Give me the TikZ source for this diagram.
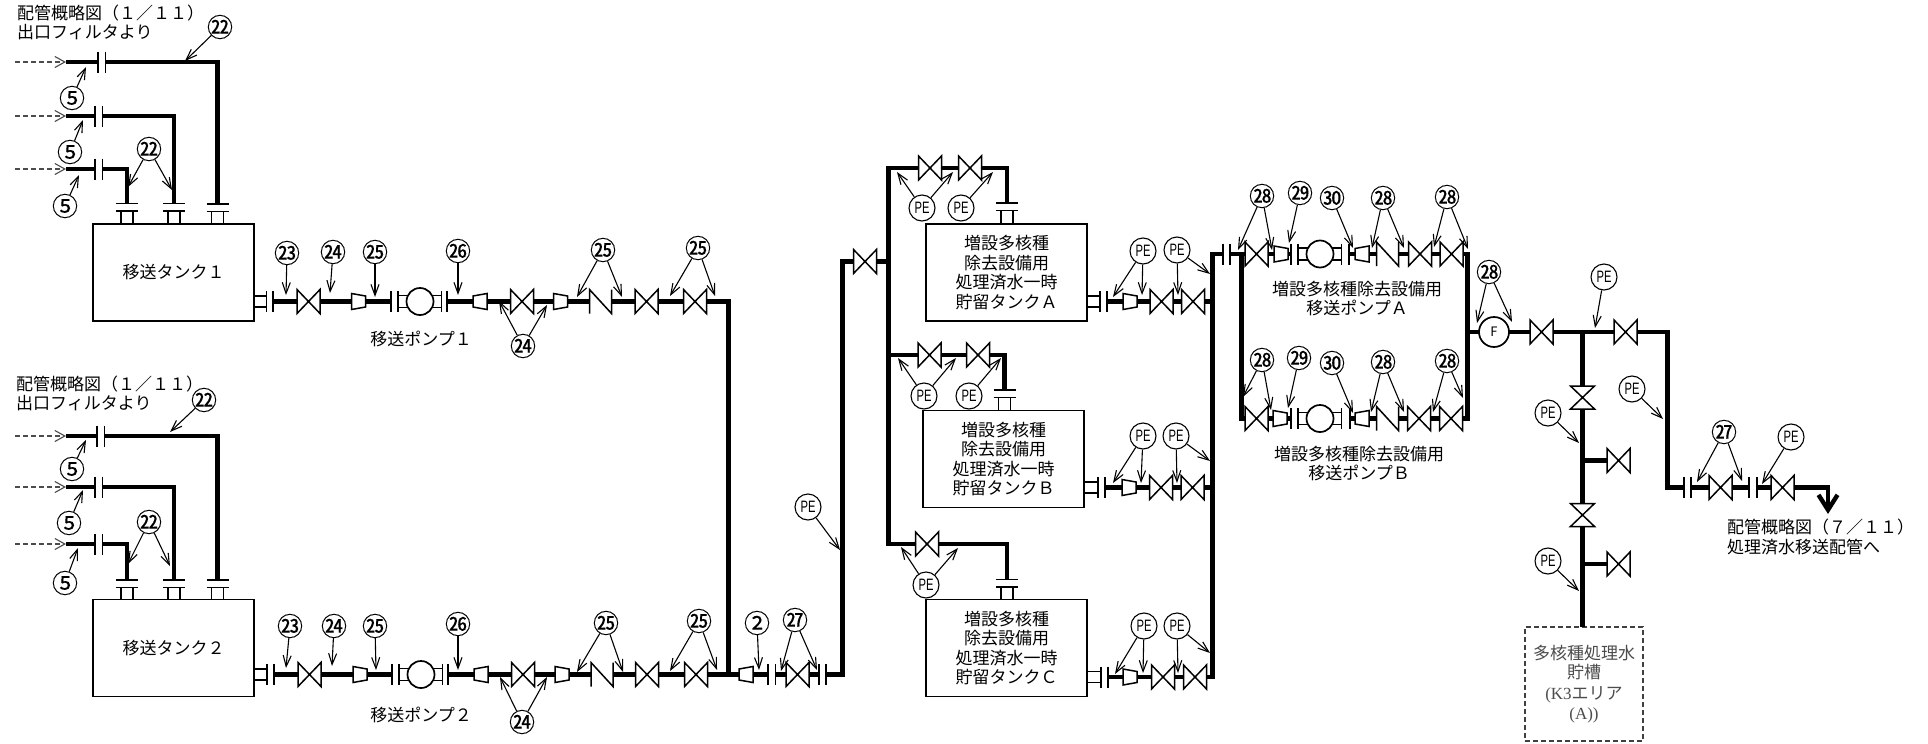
\documentclass[tikz,border=0pt]{standalone}
\usepackage{fontspec}
\usetikzlibrary{arrows.meta}
\setmainfont{Noto Sans CJK JP}
\newfontfamily\pefont[FakeStretch=0.68]{Liberation Sans}
\newfontfamily\serifl{Liberation Serif}
\newfontfamily\bubfont[FakeBold=0.12]{Noto Sans CJK JP}
\newcounter{bubc}
\tikzset{
  sline/.style={line width=1.5pt,black,line join=miter},
  pipe/.style={line width=4.4pt,black,line join=miter},
  lead/.style={line width=1.1pt,black,-{Straight Barb[length=11pt,width=8pt]}},
  feed/.style={line width=1.1pt,dashed,dash pattern=on 5pt off 3pt,black!70,-{Straight Barb[length=10pt,width=11pt]}},
  sym/.style={inner sep=0pt,outer sep=0pt,minimum width=0pt,minimum height=0pt},
  tank/.style={draw,line width=1.5pt,inner sep=0pt,outer sep=0pt,minimum width=161pt,minimum height=97pt,align=center,font=\fontsize{17}{19.4}\selectfont},
  lbl/.style={inner sep=0pt,align=center,font=\fontsize{17}{19.4}\selectfont},
  bubn/.style={circle,inner sep=0pt,minimum size=24pt,font=\fontsize{26}{26}\bubfont},
  bubp/.style={circle,draw,line width=1.1pt,inner sep=0pt,minimum size=26pt,font=\fontsize{16.5}{17}\pefont},
}
% symbols: name, x, y
\newcommand\symV[3]{\node[sym,minimum width=23pt,minimum height=24pt] (#1) at (#2,#3) {};
  \draw[sline] (#1.north west) -- (#1.south east) -- (#1.north east) -- (#1.south west) -- cycle;}
\newcommand\symVv[3]{\node[sym,minimum width=24pt,minimum height=23pt] (#1) at (#2,#3) {};
  \draw[sline] (#1.north west) -- (#1.north east) -- (#1.south west) -- (#1.south east) -- cycle;}
\newcommand\symCk[3]{\node[sym,minimum width=22pt,minimum height=24pt] (#1) at (#2,#3) {};
  \draw[sline] (#1.south west) -- (#1.north west) -- (#1.south east) -- (#1.north east);}
\newcommand\symRL[3]{\node[sym,minimum width=14pt,minimum height=16pt] (#1) at (#2,#3) {};
  \draw[sline] (#1.north west) -- ([yshift=-2.5pt]#1.north east) -- ([yshift=2.5pt]#1.south east) -- (#1.south west) -- cycle;}
\newcommand\symRR[3]{\node[sym,minimum width=14pt,minimum height=16pt] (#1) at (#2,#3) {};
  \draw[sline] (#1.north east) -- ([yshift=-2.5pt]#1.north west) -- ([yshift=2.5pt]#1.south west) -- (#1.south east) -- cycle;}
\newcommand\symF[3]{\node[sym,minimum height=21pt] (#1) at (#2,#3) {};
  \draw[sline] (#1.north) -- (#1.south);}
\newcommand\symPump[3]{\node[sym,circle,draw,line width=1.7pt,minimum size=27pt] (#1) at (#2,#3) {};
  \symF{#1l}{#2-22}{#3}\symF{#1r}{#2+21.5}{#3}
  \draw[sline] ([yshift=6pt]#1l.center) -- +(10,0) ([yshift=-6pt]#1l.center) -- +(10,0)
               ([yshift=6pt]#1r.center) -- +(-10,0) ([yshift=-6pt]#1r.center) -- +(-10,0);}
% top nozzle of a tank: name, x, y of upper flange, tank node
\newcommand\noz[4]{\node[sym,minimum width=22pt] (#1) at (#2,#3) {};
  \draw[sline] (#1.west) -- (#1.east);
  \node[sym,minimum width=22pt] (#1b) at (#2,#3+7.5) {};
  \draw[sline] (#1b.west) -- (#1b.east);
  \draw[sline] ([xshift=-6pt]#1b.center) -- ([xshift=-6pt]#1b.center |- #4.north)
               ([xshift=6pt]#1b.center) -- ([xshift=6pt]#1b.center |- #4.north);}
% side nozzle: flange name, tank node
\newcommand\sidenoz[2]{\draw[sline] ([yshift=5.5pt]#1.center) -- ([yshift=5.5pt]#1.center -| #2.east)
   ([yshift=-5.5pt]#1.center) -- ([yshift=-5.5pt]#1.center -| #2.east);}
\newcommand\chain[1]{\foreach \a/\b in {#1}{\draw[pipe] (\a.east) -- (\b.west);}}
% callouts: x, y, text, targets
\newcommand\bub[4]{\stepcounter{bubc}\edef\bn{b\arabic{bubc}}%
  \node[bubn] (\bn) at (#1,#2) {\makebox[0pt]{\raisebox{-0.38em}[0pt][0pt]{#3}}};
  \foreach \tx/\ty [count=\i] in {#4}{\coordinate (\bn-\i) at (\tx,\ty); \draw[lead] (\bn) -- (\bn-\i);}}
\newcommand\pe[3]{\stepcounter{bubc}\edef\bn{b\arabic{bubc}}%
  \node[bubp] (\bn) at (#1,#2) {PE};
  \foreach \tx/\ty [count=\i] in {#3}{\coordinate (\bn-\i) at (\tx,\ty); \draw[lead] (\bn) -- (\bn-\i);}}
% feed line: name, y, flange x
\newcommand\feedline[3]{\coordinate (#1s) at (15,#2); \coordinate (#1p) at (66,#2);
  \draw[feed] (#1s) -- (#1p);
  \symF{#1a}{#3}{#2}\symF{#1b}{#3+7.5}{#2}
  \draw[pipe] (#1p) -- (#1a.west);}
\begin{document}
\begin{tikzpicture}[x=1pt,y=-1pt]
\useasboundingbox (0,0) rectangle (1928,744);
\fill[white] (0,0) rectangle (1928,744);

%%% notes
\node[lbl,anchor=west] (n1) at (17,13) {配管概略図（１／１１）};
\node[lbl,anchor=west] (n1b) at (17,32) {出口フィルタより};
\node[lbl,anchor=west] (n2) at (16,384) {配管概略図（１／１１）};
\node[lbl,anchor=west] (n2b) at (16,403) {出口フィルタより};

%%% tank 1
\node[tank] (T1) at (173.5,272.5) {移送タンク１};
\feedline{a}{62}{98}\feedline{c}{116}{95}\feedline{e}{169}{95}
\noz{na}{217.5}{204}{T1}\noz{nc}{174}{203.5}{T1}\noz{ne}{127}{203.5}{T1}
\draw[pipe] (ab.east) -| (na.center);
\draw[pipe] (cb.east) -| (nc.center);
\draw[pipe] (eb.east) -| (ne.center);
\bub{72}{98}{⑤}{86/67}\bub{70}{152}{⑤}{83/120}\bub{65}{206}{⑤}{79/175}
\bub{220}{27}{㉒}{185/61}\bub{149}{149}{㉒}{128/187,172/190}

%%% row 1
\symF{r1f1}{266.5}{301.5}\symF{r1f2}{273}{301.5}\sidenoz{r1f1}{T1}
\symV{r1v1}{308.5}{301.5}\symRL{r1r1}{358.5}{301.5}\symF{r1f3}{391}{301.5}
\symPump{r1p}{420}{301.5}\symF{r1f4}{447}{301.5}\symRR{r1r2}{480}{301.5}
\symV{r1v2}{522}{301.5}\symRL{r1r3}{560.5}{301.5}\symCk{r1c}{600.5}{301.5}
\symV{r1v3}{646.5}{301.5}\symV{r1v4}{695}{301.5}
\chain{r1f2/r1v1,r1v1/r1r1,r1r1/r1f3,r1f4/r1r2,r1r2/r1v2,r1v2/r1r3,r1r3/r1c,r1c/r1v3,r1v3/r1v4}
\coordinate (j1) at (728.5,674);
\draw[pipe] (r1v4.east) -| (j1);
\node[lbl] (lp1) at (421,339) {移送ポンプ１};
\bub{287}{253}{㉓}{286/295}\bub{333}{252}{㉔}{330/293}\bub{375}{252}{㉕}{375/297}\bub{458}{251}{㉖}{458/295}
\bub{523}{346}{㉔}{499/301,547/305}\bub{603}{250}{㉕}{577/297,622/297}\bub{698}{248}{㉕}{670/296,715/296}

%%% tank 2
\node[tank] (T2) at (173.5,648) {移送タンク２};
\feedline{g}{436}{97}\feedline{i}{487}{95}\feedline{k}{544}{95}
\noz{ng}{217.5}{580}{T2}\noz{ni}{174}{580}{T2}\noz{nk}{127}{580}{T2}
\draw[pipe] (gb.east) -| (ng.center);
\draw[pipe] (ib.east) -| (ni.center);
\draw[pipe] (kb.east) -| (nk.center);
\bub{72}{469}{⑤}{86/440}\bub{69}{523}{⑤}{83/490}\bub{65}{583}{⑤}{78/548}
\bub{204}{400}{㉒}{170/432}\bub{149}{522}{㉒}{128/564,170/566}

%%% row 2
\symF{r2f1}{267}{674.5}\symF{r2f2}{274}{674.5}\sidenoz{r2f1}{T2}
\symV{r2v1}{309.5}{674.5}\symRL{r2r1}{360}{674.5}\symF{r2f3}{392}{674.5}
\symPump{r2p}{421}{674.5}\symF{r2f4}{448}{674.5}\symRR{r2r2}{481}{674.5}
\symV{r2v2}{523}{674.5}\symRL{r2r3}{562}{674.5}\symCk{r2c}{602}{674.5}
\symV{r2v3}{647}{674.5}\symV{r2v4}{696}{674.5}
\symRR{r2r4}{746}{674.5}\symF{r2f5}{768}{674.5}\symF{r2f6}{775.5}{674.5}
\symV{r2v5}{797.5}{674.5}\symF{r2f7}{819}{674.5}\symF{r2f8}{826}{674.5}
\chain{r2f2/r2v1,r2v1/r2r1,r2r1/r2f3,r2f4/r2r2,r2r2/r2v2,r2v2/r2r3,r2r3/r2c,r2c/r2v3,r2v3/r2v4,r2v4/r2r4,r2r4/r2f5,r2f6/r2v5,r2v5/r2f7}
\node[lbl] (lp2) at (421,715) {移送ポンプ２};
\bub{290}{626}{㉓}{286/668}\bub{334}{626}{㉔}{332/666}\bub{375}{626}{㉕}{376/670}\bub{458}{624}{㉖}{458/670}
\bub{522}{722}{㉔}{500/677,547/677}\bub{606}{623}{㉕}{577/672,623/672}\bub{699}{621}{㉕}{670/671,717/670}
\bub{757}{623}{②}{759/670}\bub{795}{620}{㉗}{781/671,817/670}

%%% rising line to tank header
\symV{vr}{865}{261.5}
\coordinate (cu) at (842.5,261.5);
\draw[pipe] (r2f8.east) -| (cu) -- (vr.west);
\pe{808}{507}{840/550}

%%% tank headers
\node[tank] (TA) at (1006.5,272.5) {増設多核種\\除去設備用\\処理済水一時\\貯留タンクＡ};
\node[tank] (TB) at (1003.5,459) {増設多核種\\除去設備用\\処理済水一時\\貯留タンクＢ};
\node[tank] (TC) at (1006.5,648) {増設多核種\\除去設備用\\処理済水一時\\貯留タンクＣ};
\coordinate (mt) at (888.5,168);\coordinate (mb) at (888.5,544);\coordinate (mB) at (888.5,355);\coordinate (mr) at (888.5,261.5);
\symV{va1}{930}{168}\symV{va2}{970}{168}\noz{nA}{1007}{203}{TA}
\symV{vb1}{929.5}{355}\symV{vb2}{978}{355}\noz{nB}{1004.5}{390}{TB}
\symV{vc1}{927}{544}\noz{nC}{1007}{579.5}{TC}
\draw[pipe] (va1.west) -- (mt) -- (mb) -- (vc1.west);
\draw[pipe] (vr.east) -- (mr);
\draw[pipe] (mB) -- (vb1.west);
\chain{va1/va2,vb1/vb2}
\draw[pipe] (va2.east) -| (nA.center);
\draw[pipe] (vb2.east) -| (nB.center);
\draw[pipe] (vc1.east) -| (nC.center);
\pe{922}{208}{897/172,953/172}\pe{961}{208}{993/172}
\pe{924}{396}{898/358,956/358}\pe{969}{396}{1001/358}
\pe{926}{585}{901/547,958/548}

%%% tank outlets
\foreach \n/\t/\fx/\y/\rx/\vx/\wx in {A/TA/1100/301.5/1130/1161.5/1193,B/TB/1098/487.5/1129/1161/1192.5,C/TC/1101/677/1130/1163/1195}{
  \symF{o\n f1}{\fx}{\y}\symF{o\n f2}{\fx+7}{\y}\sidenoz{o\n f1}{\t}
  \symRL{o\n r}{\rx}{\y}\symV{o\n v1}{\vx}{\y}\symV{o\n v2}{\wx}{\y}
  \chain{o\n f2/o\n r,o\n r/o\n v1,o\n v1/o\n v2}
}
\pe{1143}{251}{1113/297,1142/295}\pe{1177}{250}{1178/295,1210/274}
\pe{1143}{436}{1113/483,1141/483}\pe{1176}{436}{1177/483,1210/461}
\pe{1144}{626}{1115/674,1143/673}\pe{1177}{626}{1178/673,1210/653}

%%% collecting header and pump lines
\coordinate (ht) at (1212.5,254);\coordinate (hb) at (1212.5,677);
\coordinate (hA) at (1212.5,301.5);\coordinate (hB) at (1212.5,487.5);
\symF{hf1}{1223}{254}\symF{hf2}{1230}{254}
\draw[pipe] (oCv2.east) -- (hb) -- (ht) -- (hf1.west);
\draw[pipe] (oAv2.east) -- (hA);
\draw[pipe] (oBv2.east) -- (hB);

\symV{pa1}{1256.5}{254}\symRL{pa2}{1281}{254}\symF{pa3}{1291}{254}\symPump{pap}{1320}{254}\symF{pa4}{1349}{254}
\symRR{pa5}{1362}{254}\symCk{pa6}{1387.5}{254}\symV{pa7}{1420}{254}\symV{pa8}{1451.5}{254}
\symV{pb1}{1256.5}{418.5}\symRL{pb2}{1280}{418.5}\symF{pb3}{1291}{418.5}\symPump{pbp}{1320}{418.5}\symF{pb4}{1350}{418.5}
\symRR{pb5}{1362}{418.5}\symCk{pb6}{1387.5}{418.5}\symV{pb7}{1419}{418.5}\symV{pb8}{1451}{418.5}
\chain{hf2/pa1,pa1/pa2,pa2/pa3,pa4/pa5,pa5/pa6,pa6/pa7,pa7/pa8,pb1/pb2,pb2/pb3,pb4/pb5,pb5/pb6,pb6/pb7,pb7/pb8}
\coordinate (ql) at (1241.5,254);\coordinate (qb) at (1241.5,418.5);
\coordinate (rt) at (1467.5,254);\coordinate (rb) at (1467.5,418.5);\coordinate (rj) at (1467.5,332);
\draw[pipe] (ql) -- (qb) -- (pb1.west);
\draw[pipe] (pa8.east) -- (rt) -- (rb) -- (pb8.east);
\node[lbl] (lA) at (1357,298.5) {増設多核種除去設備用\\移送ポンプＡ};
\node[lbl] (lB) at (1359,463.5) {増設多核種除去設備用\\移送ポンプＢ};
\bub{1262}{196}{㉘}{1238/250,1272/250}\bub{1300}{193}{㉙}{1289/243}\bub{1332}{198}{㉚}{1353/248}
\bub{1383}{198}{㉘}{1372/248,1404/248}\bub{1447}{197}{㉘}{1434/247,1468/249}
\bub{1262}{360}{㉘}{1243/397,1271/410}\bub{1299}{358}{㉙}{1288/408}\bub{1332}{363}{㉚}{1353/413}
\bub{1383}{362}{㉘}{1371/412,1404/412}\bub{1447}{361}{㉘}{1433/412,1463/398}

%%% outlet
\node[circle,draw,line width=1.7pt,inner sep=0pt,outer sep=0pt,minimum size=30pt,font=\fontsize{13}{14}\selectfont] (fil) at (1494,332) {F};
\draw[pipe] (rj) -- (fil.west);
\symV{w1}{1541.5}{332}\symV{w2}{1625.5}{332}
\draw[pipe] (fil.east) -- (w1.west) (w1.east) -- (w2.west);
\coordinate (wc) at (1667.5,487.5);\coordinate (wj) at (1582.5,332);
\symF{w3}{1684}{487.5}\symF{w4}{1691}{487.5}\symV{w5}{1720.5}{487.5}\symF{w6}{1749}{487.5}\symF{w7}{1757}{487.5}\symV{w8}{1782.5}{487.5}
\draw[pipe] (w2.east) -| (wc) -- (w3.west);
\chain{w4/w5,w5/w6,w7/w8}
\coordinate (tip) at (1828,514);
\draw[line width=4.4pt,-{Straight Barb[length=15pt,width=19pt]}] (w8.east) -| (tip);
\node[lbl,anchor=west,align=left] (n3) at (1727,537) {配管概略図（７／１１）\\処理済水移送配管へ};

\node[draw,dashed,dash pattern=on 5pt off 3pt,line width=1.2pt,inner sep=0pt,outer sep=0pt,minimum width=118pt,minimum height=114pt,align=center,black!75,text=black!70,font=\fontsize{17}{19.4}\selectfont] (K3) at (1584,684) {多核種処理水\\貯槽\\[1.5pt]{\serifl (K3}エリア\\{\serifl (A))}};
\symVv{s1}{1582.5}{397.5}\symVv{s2}{1582.5}{515}
\symV{s3}{1618.5}{460.5}\symV{s4}{1618.5}{564}
\draw[pipe] (wj) -- (s1.north) (s1.south) -- (s2.north);
\draw[pipe] (s2.south) -- (s2.south |- K3.north);
\draw[pipe] (s3.west -| wj) -- (s3.west);
\draw[pipe] (s4.west -| wj) -- (s4.west);
\bub{1489}{272}{㉘}{1477/323,1512/322}
\pe{1604}{277}{1595/328}\pe{1632}{389}{1663/419}\pe{1548}{413}{1579/443}\pe{1548}{561}{1579/591}
\bub{1724}{432}{㉗}{1697/482,1742/481}\pe{1791}{437}{1762/484}
\end{tikzpicture}
\end{document}
